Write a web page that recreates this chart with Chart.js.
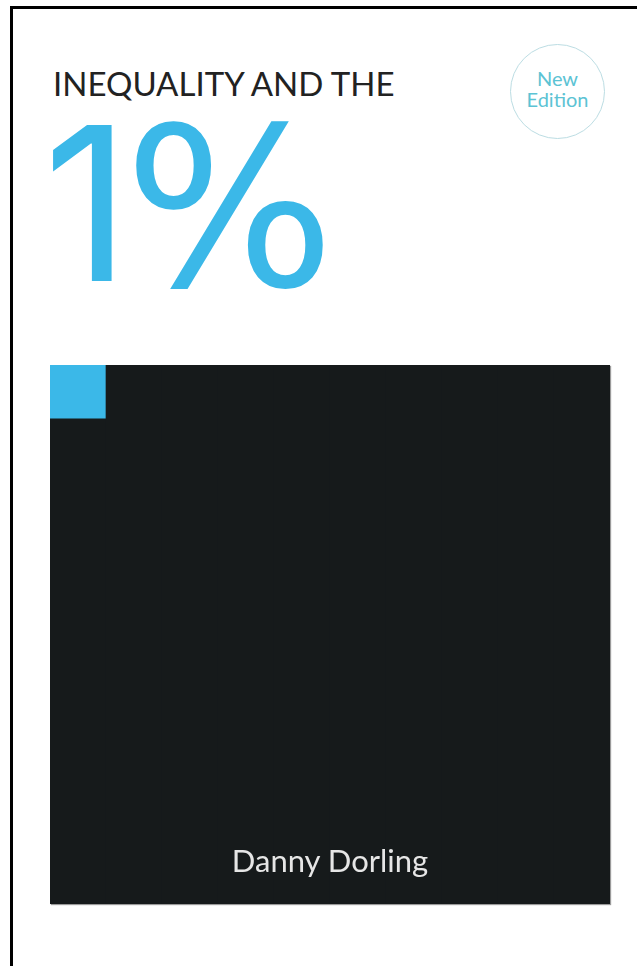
<!DOCTYPE html>
<html>
<head>
<meta charset="utf-8">
<script src="https://cdn.jsdelivr.net/npm/chart.js@4.4.1/dist/chart.umd.min.js"></script>
<style>
  html, body { margin: 0; padding: 0; background: #ffffff; }
  body { width: 637px; height: 966px; position: relative; overflow: hidden; }
  #frame { position: absolute; left: 10px; top: 6px; width: 640px; height: 980px;
           border-left: 3px solid #000; border-top: 3px solid #000; box-sizing: border-box; }
  .txt { position: absolute; white-space: nowrap; line-height: 1; }
  #title { left: 53px; top: 67px; font-family: Lato, sans-serif; font-size: 33px; color: #222; }
  .big { color: #3bb8e8; font-weight: 400; }
  #one { left: 43px; top: 96px; font-family: Inter, sans-serif; font-size: 215px; }
  #pct { left: 124px; top: 98px; font-family: "DejaVu Sans", sans-serif; font-size: 222px; }
  #badge { position: absolute; left: 510px; top: 44px; width: 95px; height: 95px; border-radius: 50%;
           border: 1.5px solid #bcdde3; box-sizing: border-box; }
  #badgeText { position: absolute; left: 510px; top: 68px; width: 95px; text-align: center;
               font-family: Lato, sans-serif; font-size: 20px; line-height: 21px; color: #5cc3d4; }
  #box { position: absolute; left: 50px; top: 365px; width: 560px; height: 539px; box-shadow: 1px 1px 1px #9a9a9a; }
  #author { left: 50px; width: 560px; top: 845px; text-align: center; font-family: Lato, sans-serif; font-size: 31px; color: #e6e6e6; }
</style>
</head>
<body>
<div id="frame"></div>
<div class="txt" id="title">INEQUALITY AND THE</div>
<div class="txt big" id="one">1</div>
<div class="txt big" id="pct">%</div>
<div id="badge"></div>
<div id="badgeText">New<br>Edition</div>
<div id="box"><canvas id="c" width="560" height="539"></canvas></div>
<div class="txt" id="author">Danny Dorling</div>
<script>
// 10 x 10 grid of population units (100 units = everyone); one unit is the top 1%
const columns = ['1', '2', '3', '4', '5', '6', '7', '8', '9', '10'];
const the99Units = [9, 10, 10, 10, 10, 10, 10, 10, 10, 10];
const the1Units = [1, 0, 0, 0, 0, 0, 0, 0, 0, 0];
const seriesNames = ['The 99%', 'The 1%'];
const seriesColors = ['#161a1b', '#3bb8e8'];

new Chart(document.getElementById('c'), {
  type: 'bar',
  data: {
    labels: columns,
    datasets: [
      { label: seriesNames[0], data: the99Units, backgroundColor: seriesColors[0], borderWidth: 0,
        barPercentage: 1, categoryPercentage: 1 },
      { label: seriesNames[1], data: the1Units, backgroundColor: seriesColors[1], borderWidth: 0,
        barPercentage: 1, categoryPercentage: 1 }
    ]
  },
  options: {
    responsive: false,
    animation: false,
    layout: { padding: 0 },
    plugins: { legend: { display: false }, tooltip: { enabled: false }, title: { display: false } },
    scales: {
      x: { stacked: true, display: false, offset: true },
      y: { stacked: true, display: false, min: 0, max: 10 }
    }
  }
});
</script>
</body>
</html>
